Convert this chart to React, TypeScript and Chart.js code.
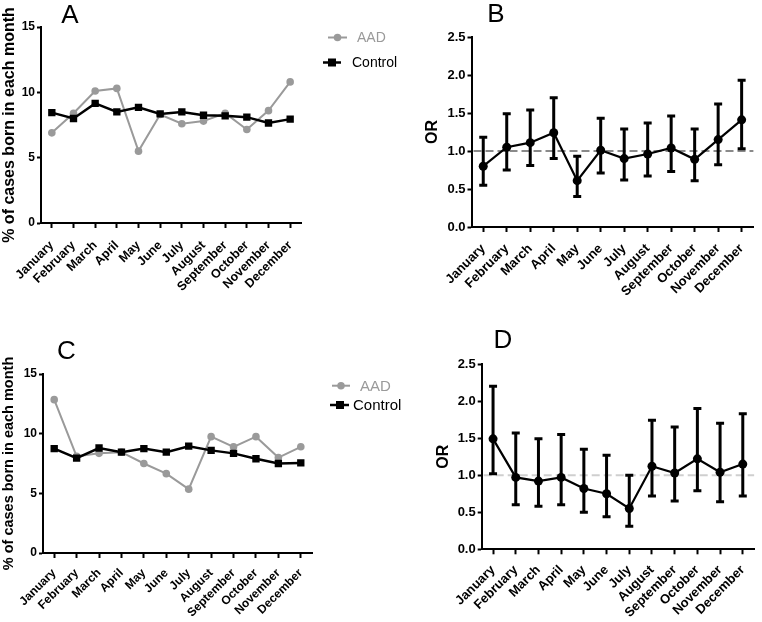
import React, { useEffect, useRef } from "react";
import { Chart, registerables } from "chart.js";

Chart.register(...registerables);

// ---------------- data ----------------
const months = [
  "January", "February", "March", "April", "May", "June",
  "July", "August", "September", "October", "November", "December",
];

// Panel A: % of cases born in each month
const aadA = [6.9, 8.4, 10.1, 10.3, 5.5, 8.3, 7.6, 7.8, 8.4, 7.15, 8.6, 10.8];
const controlA = [8.45, 8.0, 9.15, 8.5, 8.85, 8.35, 8.5, 8.25, 8.2, 8.1, 7.65, 7.95];

// Panel B: odds ratio with 95% CI
const orB = [0.8, 1.05, 1.11, 1.24, 0.61, 1.01, 0.9, 0.96, 1.04, 0.89, 1.15, 1.41];
const lowB = [0.55, 0.75, 0.81, 0.9, 0.4, 0.71, 0.62, 0.67, 0.73, 0.61, 0.82, 1.03];
const highB = [1.18, 1.49, 1.54, 1.7, 0.93, 1.43, 1.29, 1.37, 1.46, 1.29, 1.62, 1.93];

// Panel C: % of cases born in each month
const aadC = [12.85, 8.1, 8.35, 8.45, 7.5, 6.65, 5.35, 9.75, 8.9, 9.75, 8.0, 8.9];
const controlC = [8.75, 7.95, 8.8, 8.45, 8.75, 8.45, 8.95, 8.6, 8.35, 7.9, 7.5, 7.55];

// Panel D: odds ratio with 95% CI
const orD = [1.49, 0.97, 0.92, 0.97, 0.82, 0.75, 0.55, 1.12, 1.03, 1.22, 1.04, 1.15];
const lowD = [1.02, 0.6, 0.58, 0.6, 0.5, 0.44, 0.31, 0.72, 0.65, 0.79, 0.64, 0.72];
const highD = [2.2, 1.57, 1.49, 1.55, 1.35, 1.27, 1.0, 1.74, 1.65, 1.9, 1.7, 1.83];

const pctTicks = { min: 0, max: 15, step: 5 };
const orTicks = { min: 0, max: 2.5, step: 0.5 };
const refValue = 1.0;

const pctTitle = "% of cases born in each month";
const orTitle = "OR";
const seriesNames = ["AAD", "Control"];

// ---------------- styles ----------------
const FONT = "'Liberation Sans', Arial, Helvetica, sans-serif";
const GRAY = "#9a9a9a";

// ---------------- plugins ----------------
const letterPlugin = {
  id: "panelLetter",
  afterDraw(chart: any, _a: any, opts: any) {
    if (!opts || !opts.text) return;
    const ctx = chart.ctx;
    ctx.save();
    ctx.fillStyle = "#000";
    ctx.font = `${opts.size}px ${FONT}`;
    ctx.textAlign = "center";
    ctx.textBaseline = "alphabetic";
    ctx.fillText(opts.text, opts.x, opts.y);
    ctx.restore();
  },
};

const legendPlugin = {
  id: "sideLegend",
  afterDraw(chart: any, _a: any, opts: any) {
    if (!opts || !opts.items) return;
    const ctx = chart.ctx;
    ctx.save();
    opts.items.forEach((it: any, i: number) => {
      const ds = chart.data.datasets[i];
      const color = ds.borderColor;
      ctx.strokeStyle = color;
      ctx.lineWidth = ds.borderWidth;
      ctx.beginPath();
      ctx.moveTo(it.x1, it.y);
      ctx.lineTo(it.x2, it.y);
      ctx.stroke();
      ctx.fillStyle = color;
      if (ds.pointStyle === "rect") {
        const s = it.marker;
        ctx.fillRect(it.mx - s / 2, it.y - s / 2, s, s);
      } else {
        ctx.beginPath();
        ctx.arc(it.mx, it.y, it.marker / 2, 0, Math.PI * 2);
        ctx.fill();
      }
      ctx.fillStyle = color;
      ctx.font = `${opts.size}px ${FONT}`;
      ctx.textAlign = "left";
      ctx.textBaseline = "middle";
      ctx.fillText(ds.label, it.tx, it.y + 1);
    });
    ctx.restore();
  },
};

const refLinePlugin = {
  id: "refLine",
  beforeDatasetsDraw(chart: any, _a: any, opts: any) {
    if (!opts || opts.value === undefined) return;
    const { ctx, chartArea } = chart;
    const y = chart.scales.y.getPixelForValue(opts.value);
    ctx.save();
    ctx.strokeStyle = opts.color;
    ctx.lineWidth = 2;
    ctx.setLineDash(opts.dash);
    ctx.beginPath();
    ctx.moveTo(chartArea.left + 2, y);
    ctx.lineTo(chartArea.right, y);
    ctx.stroke();
    ctx.restore();
  },
};

const errorBarPlugin = {
  id: "errorBars",
  afterDatasetsDraw(chart: any, _a: any, opts: any) {
    if (!opts || !opts.low) return;
    const { ctx } = chart;
    const xs = chart.scales.x;
    const ys = chart.scales.y;
    ctx.save();
    ctx.strokeStyle = "#000";
    ctx.lineWidth = 3;
    ctx.lineCap = "butt";
    opts.low.forEach((lo: number, i: number) => {
      const hi = opts.high[i];
      const x = xs.getPixelForValue(i);
      const yl = ys.getPixelForValue(lo);
      const yh = ys.getPixelForValue(hi);
      ctx.beginPath();
      ctx.moveTo(x, yl);
      ctx.lineTo(x, yh);
      ctx.moveTo(x - opts.cap, yl);
      ctx.lineTo(x + opts.cap, yl);
      ctx.moveTo(x - opts.cap, yh);
      ctx.lineTo(x + opts.cap, yh);
      ctx.stroke();
    });
    ctx.restore();
  },
};

// ---------------- config builders ----------------
function scales(g: any, tk: any, title: string, isOR: boolean) {
  return {
    x: {
      type: "category",
      offset: true,
      afterFit: (s: any) => {
        s.height = g.xHeight;
      },
      border: { display: true, color: "#000", width: 2 },
      grid: {
        drawOnChartArea: false,
        drawTicks: true,
        tickLength: 5,
        tickWidth: 2,
        tickColor: "#000",
        offset: false,
      },
      ticks: {
        autoSkip: false,
        maxRotation: 45,
        minRotation: 45,
        padding: g.xPad,
        color: "#000",
        font: { family: FONT, size: g.xFont, weight: "bold" },
      },
    },
    y: {
      min: tk.min,
      max: tk.max,
      afterFit: (s: any) => {
        s.width = g.yWidth;
      },
      border: { display: true, color: "#000", width: 2 },
      grid: {
        drawOnChartArea: false,
        drawTicks: true,
        tickLength: 4,
        tickWidth: 2,
        tickColor: "#000",
      },
      ticks: {
        stepSize: tk.step,
        padding: 2,
        color: "#000",
        font: { family: FONT, size: g.yFont, weight: "bold" },
        callback: (v: any) => (isOR ? Number(v).toFixed(1) : String(v)),
      },
      title: {
        display: true,
        text: title,
        color: "#000",
        padding: 0,
        font: { family: FONT, size: g.titleFont, weight: "bold" },
      },
    },
  };
}

function pctConfig(aad: number[], control: number[], g: any) {
  return {
    type: "line",
    data: {
      labels: months,
      datasets: [
        {
          label: seriesNames[0],
          data: aad,
          borderColor: GRAY,
          backgroundColor: GRAY,
          borderWidth: 2,
          pointStyle: "circle",
          pointRadius: 3.8,
          pointBorderWidth: 0,
          tension: 0,
          order: 1,
        },
        {
          label: seriesNames[1],
          data: control,
          borderColor: "#000",
          backgroundColor: "#000",
          borderWidth: 2.5,
          pointStyle: "rect",
          pointRadius: 5.2,
          pointBorderWidth: 0,
          tension: 0,
          order: 0,
        },
      ],
    },
    options: {
      responsive: false,
      animation: false,
      events: [],
      layout: { padding: { left: g.padLeft, top: g.padTop, right: g.padRight, bottom: 0 } },
      scales: scales(g, pctTicks, pctTitle, false),
      plugins: {
        legend: { display: false },
        tooltip: { enabled: false },
        panelLetter: g.letter,
        sideLegend: g.legend,
      },
    },
    plugins: [letterPlugin, legendPlugin],
  };
}

function orConfig(or: number[], low: number[], high: number[], g: any) {
  return {
    type: "line",
    data: {
      labels: months,
      datasets: [
        {
          label: orTitle,
          data: or,
          borderColor: "#000",
          backgroundColor: "#000",
          borderWidth: 2.2,
          pointStyle: "circle",
          pointRadius: 4.5,
          pointBorderWidth: 0,
          tension: 0,
        },
      ],
    },
    options: {
      responsive: false,
      animation: false,
      events: [],
      layout: { padding: { left: g.padLeft, top: g.padTop, right: g.padRight, bottom: 0 } },
      scales: scales(g, orTicks, orTitle, true),
      plugins: {
        legend: { display: false },
        tooltip: { enabled: false },
        panelLetter: g.letter,
        refLine: { value: refValue, color: g.refColor, dash: [8, 4] },
        errorBars: { low, high, cap: 4 },
      },
    },
    plugins: [letterPlugin, refLinePlugin, errorBarPlugin],
  };
}

// ---------------- layout ----------------
const panels = [
  {
    key: "A",
    box: { x: 0, y: 0, w: 415, h: 300 },
    build: () =>
      pctConfig(aadA, controlA, {
        padLeft: 0, yWidth: 41, padTop: 27, padRight: 114, xHeight: 77,
        xFont: 12.5, yFont: 12, titleFont: 16, xPad: 10,
        letter: { text: "A", x: 70, y: 23, size: 26 },
        legend: {
          size: 14,
          items: [
            { y: 37.5, x1: 328, x2: 347, mx: 337.5, marker: 7.5, tx: 357 },
            { y: 62.5, x1: 323, x2: 341, mx: 332, marker: 8, tx: 352 },
          ],
        },
      }),
  },
  {
    key: "B",
    box: { x: 415, y: 0, w: 347, h: 300 },
    build: () =>
      orConfig(orB, lowB, highB, {
        padLeft: 8, yWidth: 48.5, padTop: 37, padRight: 8, xHeight: 73,
        xFont: 13, yFont: 13, titleFont: 16, xPad: 9,
        refColor: "#8a8a8a",
        letter: { text: "B", x: 81, y: 22, size: 26 },
      }),
  },
  {
    key: "C",
    box: { x: 0, y: 300, w: 415, h: 322 },
    build: () =>
      pctConfig(aadC, controlC, {
        padLeft: 0, yWidth: 43, padTop: 74, padRight: 103, xHeight: 69,
        xFont: 12, yFont: 12, titleFont: 14.5, xPad: 8,
        letter: { text: "C", x: 66.5, y: 59, size: 26 },
        legend: {
          size: 15,
          items: [
            { y: 85.7, x1: 332, x2: 350, mx: 341, marker: 7.5, tx: 360 },
            { y: 105, x1: 330, x2: 349, mx: 340, marker: 8, tx: 353 },
          ],
        },
      }),
  },
  {
    key: "D",
    box: { x: 415, y: 300, w: 347, h: 322 },
    build: () =>
      orConfig(orD, lowD, highD, {
        padLeft: 19, yWidth: 47.7, padTop: 64, padRight: 1.4, xHeight: 72.7,
        xFont: 13, yFont: 13, titleFont: 16, xPad: 8,
        refColor: "#cfcfcf",
        letter: { text: "D", x: 88, y: 48, size: 26 },
      }),
  },
];

function Panel({ box, build }: { box: any; build: () => any }) {
  const ref = useRef<HTMLCanvasElement>(null);
  useEffect(() => {
    const chart = new Chart(ref.current as HTMLCanvasElement, build() as any);
    return () => chart.destroy();
  }, []);
  return (
    <canvas
      ref={ref}
      width={box.w}
      height={box.h}
      style={{ position: "absolute", left: box.x, top: box.y, width: box.w, height: box.h }}
    />
  );
}

export default function App() {
  return (
    <div
      style={{
        position: "absolute",
        left: 0,
        top: 0,
        width: 762,
        height: 622,
        background: "#fff",
        overflow: "hidden",
      }}
    >
      {panels.map((p) => (
        <Panel key={p.key} box={p.box} build={p.build} />
      ))}
    </div>
  );
}
